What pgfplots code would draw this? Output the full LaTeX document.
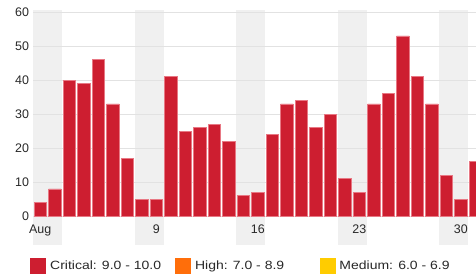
\documentclass[border=0pt]{standalone}
\usepackage{pgfplots}
\pgfplotsset{compat=1.18}
\usepackage{fontspec}
\setmainfont{Liberation Sans}
\newfontfamily\legfont{Liberation Sans}[FakeStretch=1.17]
\definecolor{crit}{RGB}{205,30,48}
\definecolor{critedge}{RGB}{232,120,132}
\definecolor{high}{RGB}{255,110,10}
\definecolor{med}{RGB}{255,204,0}
\definecolor{band}{RGB}{240,240,240}
\definecolor{gridc}{RGB}{226,226,226}
\definecolor{txt}{RGB}{40,40,40}
\begin{document}
\begin{tikzpicture}
\begin{axis}[
  set layers,
  at={(0,0)}, anchor=south west,
  scale only axis, width=443bp, height=204bp,
  xmin=0.5, xmax=31.05, ymin=0, ymax=60,
  clip=false,
  axis line style={draw=none},
  ytick={0,10,...,60},
  xtick={1,9,16,23,30},
  xticklabels={Aug,9,16,23,30},
  major tick length=0pt,
  ymajorgrids, grid style={gridc, line width=1bp},
  tick label style={font=\fontsize{12.5}{14}\selectfont, text=txt},
  yticklabel style={xshift=-0.5bp},
  xticklabel style={yshift=-5.5bp},
  /pgf/number format/assume math mode=true,
  ybar, bar width=12.5bp,
  legend columns=3,
  legend style={draw=none, fill=none, at={(0,0)}, anchor=west,
    xshift=-3.5bp, yshift=-50bp, inner sep=0pt,
    nodes={inner sep=2.5bp, text=txt},
    font=\legfont\fontsize{12}{14}\selectfont,
    /tikz/every even column/.style={column sep=0pt},
    /tikz/every odd column/.style={column sep=0pt}},
]
\begin{pgfonlayer}{axis background}
\fill[band] (axis cs:0.5,-8.6) rectangle (axis cs:2.5,60.6);
\fill[band] (axis cs:7.5,-8.6) rectangle (axis cs:9.5,60.6);
\fill[band] (axis cs:14.5,-8.6) rectangle (axis cs:16.5,60.6);
\fill[band] (axis cs:21.5,-8.6) rectangle (axis cs:23.5,60.6);
\fill[band] (axis cs:28.5,-8.6) rectangle (axis cs:30.5,60.6);
\end{pgfonlayer}
\addplot[fill=crit, draw=critedge, line width=0.5bp,
  legend image code/.code={\fill[crit] (0bp,-7.5bp) rectangle (15bp,7.5bp);}]
  coordinates {
  (1,4) (2,8) (3,40) (4,39) (5,46) (6,33) (7,17) (8,5) (9,5) (10,41)
  (11,25) (12,26) (13,27) (14,22) (15,6) (16,7) (17,24) (18,33) (19,34) (20,26)
  (21,30) (22,11) (23,7) (24,33) (25,36) (26,53) (27,41) (28,33) (29,12) (30,5) (31,16)
  };
\addlegendentry{\makebox[125bp][l]{\hspace{2.5bp}Critical: 9.0 - 10.0}}
\addlegendimage{legend image code/.code={\fill[high] (0bp,-7.5bp) rectangle (15bp,7.5bp);}}
\addlegendentry{\makebox[124bp][l]{\hspace{2bp}High: 7.0 - 8.9}}
\addlegendimage{legend image code/.code={\fill[med] (0bp,-7.5bp) rectangle (15bp,7.5bp);}}
\addlegendentry{\hspace{2bp}Medium: 6.0 - 6.9}
\end{axis}
\pgfresetboundingbox
\useasboundingbox (-33bp,-64bp) rectangle (443bp,216bp);
\end{tikzpicture}
\end{document}
